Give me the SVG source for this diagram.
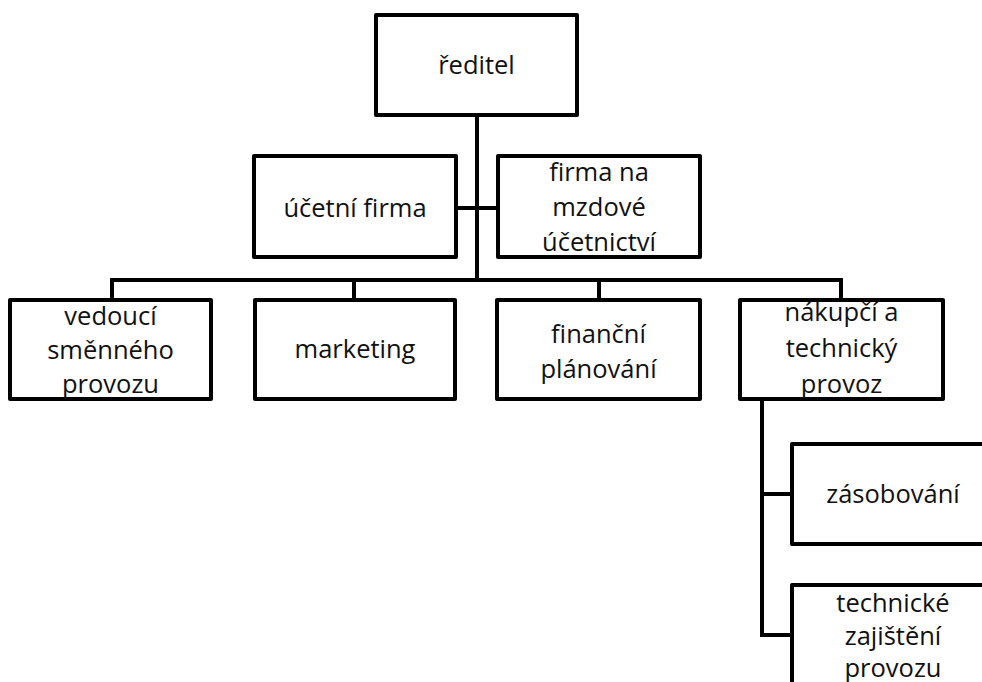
<svg xmlns="http://www.w3.org/2000/svg" width="982" height="682" viewBox="0 0 982 682">
<style>
.box{fill:#fff;stroke:#000;stroke-width:4;stroke-linejoin:round}
.ln{fill:none;stroke:#000;stroke-width:4}
text{font-family:"Open Sans","Liberation Sans",sans-serif;font-size:25.5px;fill:#111;text-anchor:middle}
</style>
<rect width="982" height="682" fill="#fff"/>
<g id="connectors">
<path class="ln" d="M477 115V280M456 208H498M110 280H843M112 278V300M354 280V300M599 280V300M841 278V300M762 399V637M760 494H790M760 635H790"/>
</g>
<g id="n-reditel"><rect class="box" x="376" y="15" width="201" height="100"/><text x="476.5" y="74">ředitel</text></g>
<g id="n-ucetni"><rect class="box" x="254" y="156" width="202" height="101"/><text x="355" y="217">účetní firma</text></g>
<g id="n-mzdove"><rect class="box" x="498" y="156" width="202" height="101"/><text x="599" y="181">firma na</text><text x="599" y="216">mzdové</text><text x="599" y="251">účetnictví</text></g>
<g id="n-vedouci"><rect class="box" x="10" y="300" width="201" height="99"/><text x="110.5" y="325">vedoucí</text><text x="110.5" y="359">směnného</text><text x="110.5" y="393">provozu</text></g>
<g id="n-marketing"><rect class="box" x="255" y="300" width="200" height="99"/><text x="355" y="358">marketing</text></g>
<g id="n-financni"><rect class="box" x="497" y="300" width="203" height="99"/><text x="598.5" y="343">finanční</text><text x="598.5" y="378">plánování</text></g>
<g id="n-nakupci"><rect class="box" x="740" y="300" width="203" height="99"/><text x="841.5" y="321">nákupčí a</text><text x="841.5" y="357">technický</text><text x="841.5" y="393">provoz</text></g>
<g id="n-zasobovani"><rect class="box" x="792" y="444" width="203" height="100"/><text x="893" y="503">zásobování</text></g>
<g id="n-technicke"><rect class="box" x="792" y="585" width="203" height="100"/><text x="893" y="612">technické</text><text x="893" y="645">zajištění</text><text x="893" y="677">provozu</text></g>
</svg>
